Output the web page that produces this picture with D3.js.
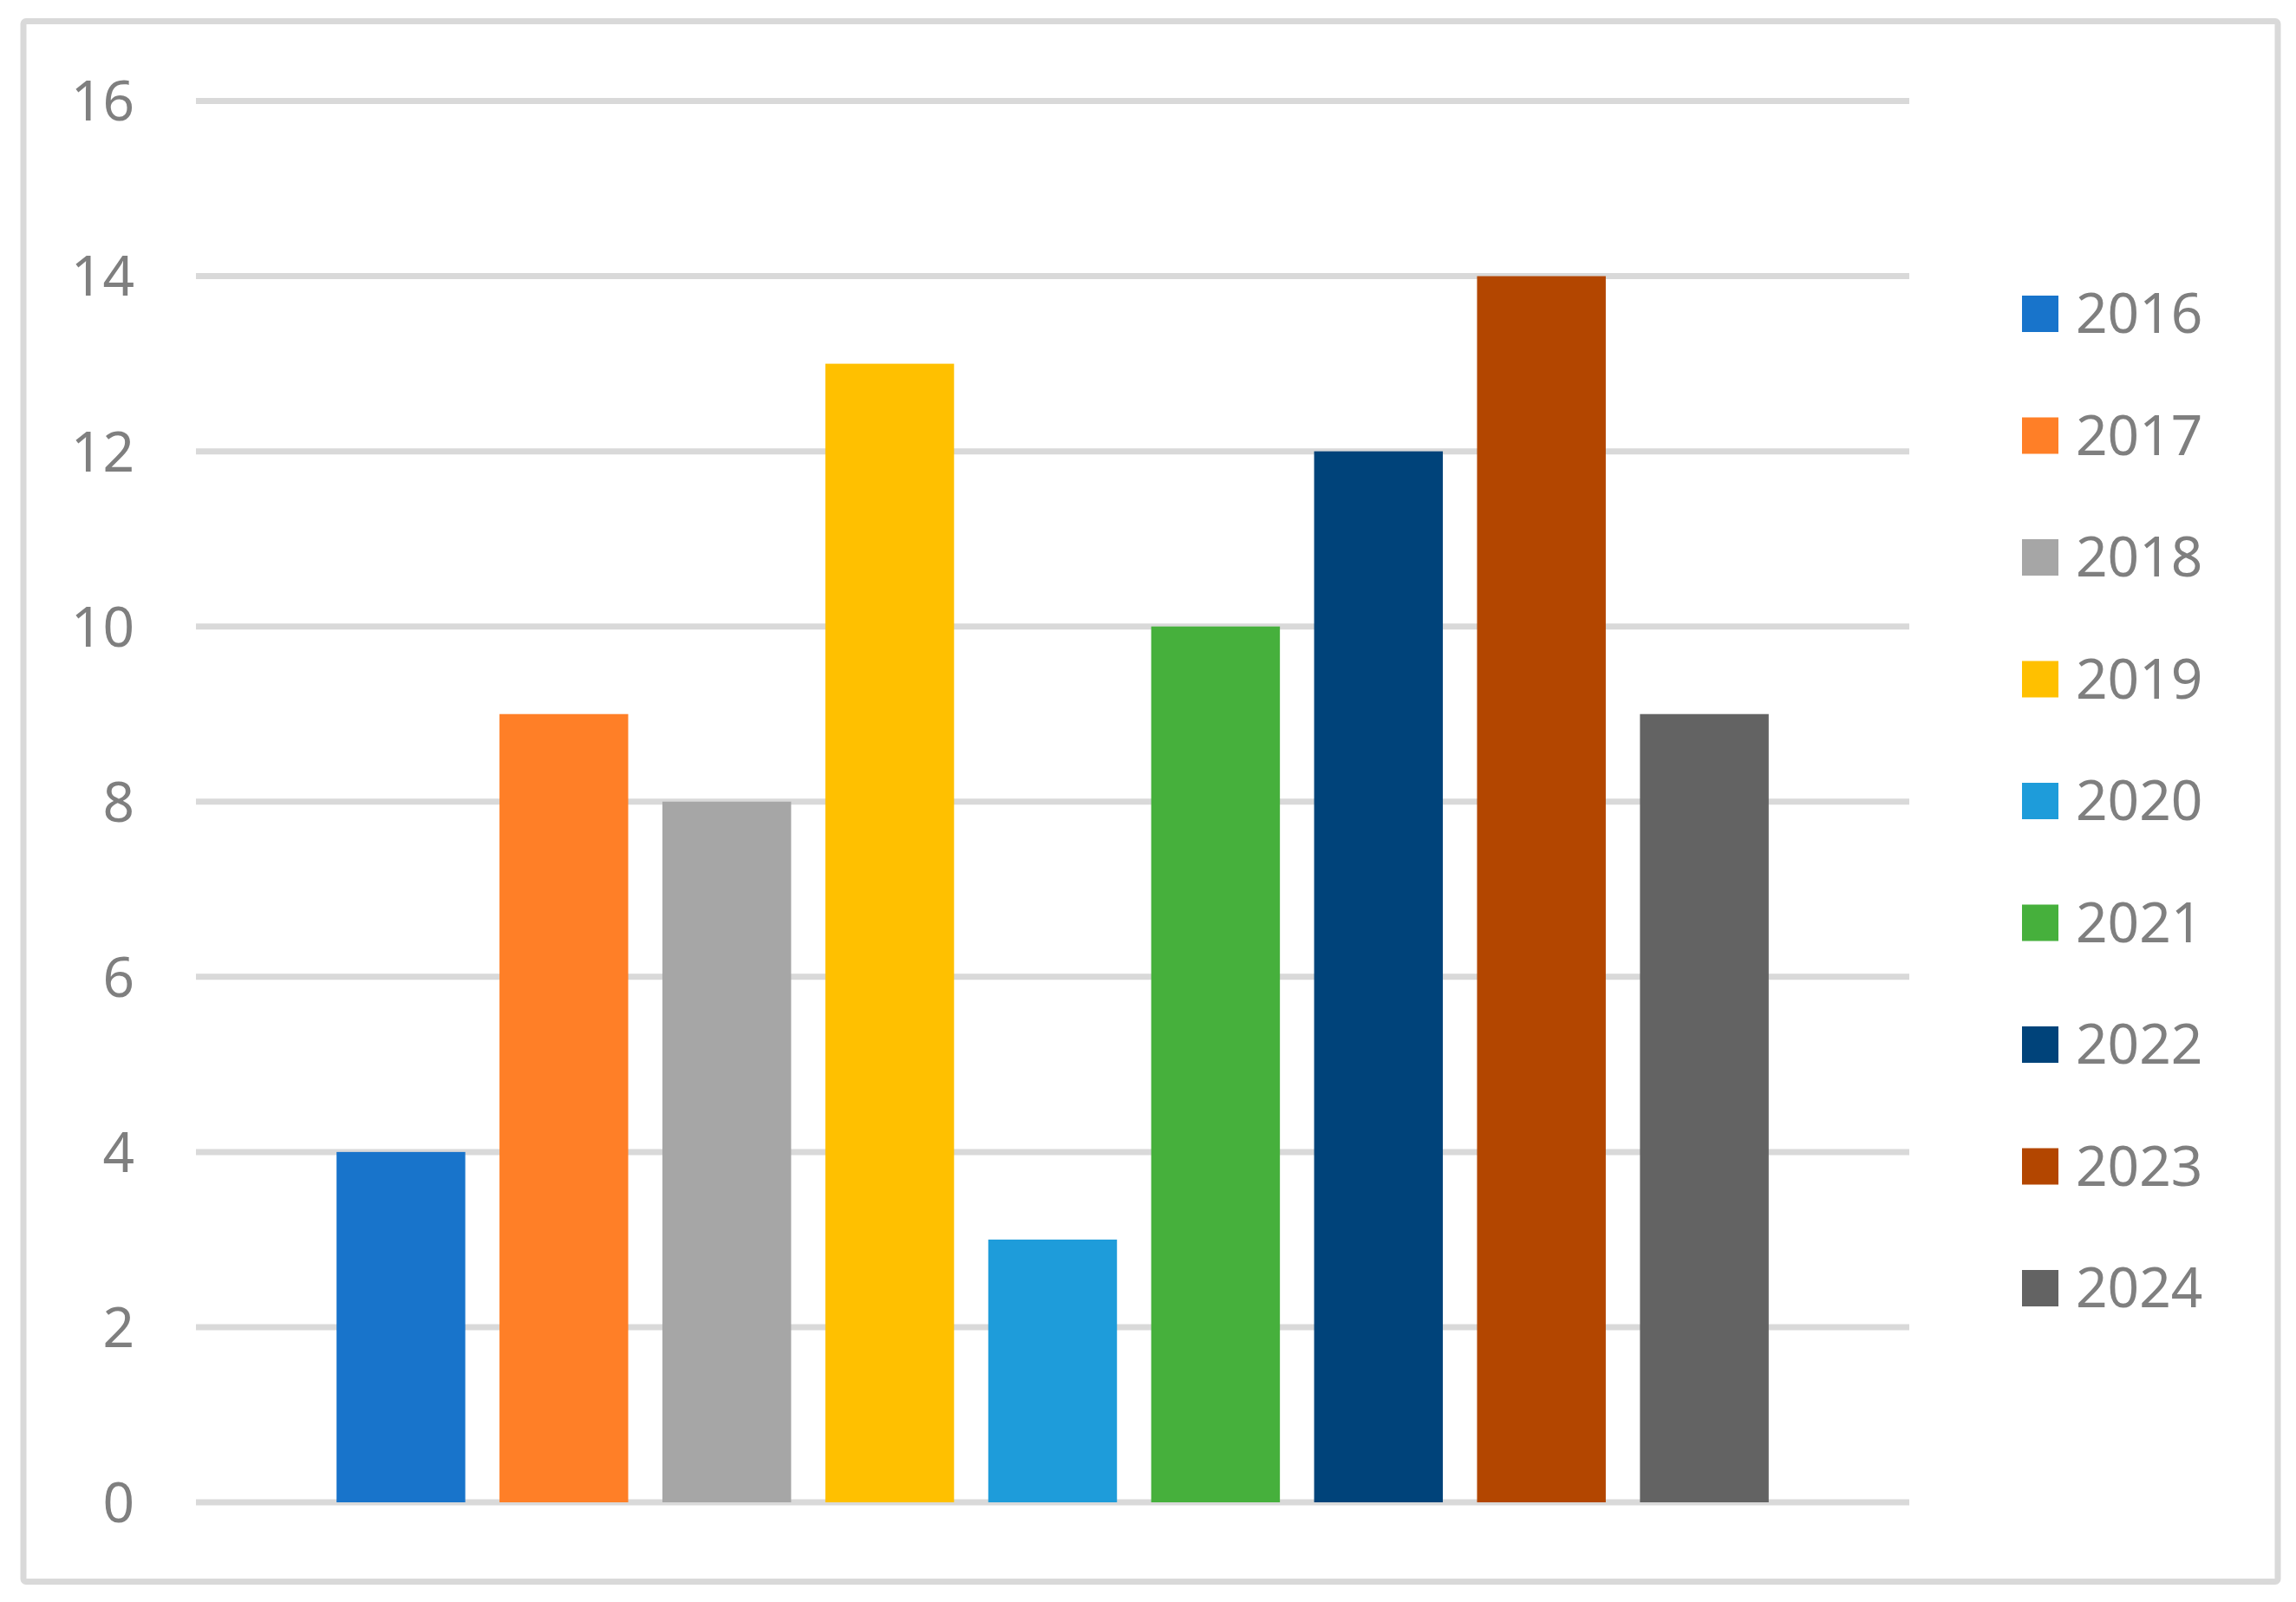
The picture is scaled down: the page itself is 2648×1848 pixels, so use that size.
<!DOCTYPE html>
<html>
<head>
  <script src="https://cdnjs.cloudflare.com/ajax/libs/d3/7.8.5/d3.min.js"></script>
  <style>
    body { margin: 0; background: #fff; }
    text { font-family: "Noto Sans", sans-serif; fill: #7f7f7f; }
  </style>
</head>
<body>
  <script>
    var years = ["2016", "2017", "2018", "2019", "2020", "2021", "2022", "2023", "2024"];
    var values = [4, 9, 8, 13, 3, 10, 12, 14, 9];
    var colors = ["#1874cb", "#ff7f27", "#a6a6a6", "#ffc000", "#1e9cda", "#46b03c", "#00437a", "#b34600", "#636363"];
    var yTicks = [0, 2, 4, 6, 8, 10, 12, 14, 16];

    var width = 2648,
      height = 1848,
      plotLeft = 226,
      plotRight = 2202,
      plotTop = 116.5,
      plotBottom = 1733;

    var svg = d3.select("body")
      .append("svg")
      .attr("width", width)
      .attr("height", height);

    // outer chart border
    svg.append("rect")
      .attr("x", 27)
      .attr("y", 24.5)
      .attr("width", 2600)
      .attr("height", 1800)
      .attr("rx", 3)
      .attr("fill", "#fff")
      .attr("stroke", "#d9d9d9")
      .attr("stroke-width", 7);

    var y = d3.scaleLinear()
      .domain([0, 16])
      .range([plotBottom, plotTop]);

    var x = d3.scaleBand()
      .domain(years)
      .range([plotLeft, plotRight])
      .paddingInner(0.21)
      .paddingOuter(0.863);

    // gridlines
    svg.append("g")
      .selectAll("line")
      .data(yTicks)
      .enter()
      .append("line")
      .attr("x1", plotLeft)
      .attr("x2", plotRight)
      .attr("y1", function(d) { return y(d); })
      .attr("y2", function(d) { return y(d); })
      .attr("stroke", "#d9d9d9")
      .attr("stroke-width", 7);

    // y axis labels
    var yAxis = d3.axisLeft(y)
      .tickValues(yTicks)
      .tickSize(0)
      .tickPadding(0);

    var gy = svg.append("g")
      .attr("transform", "translate(155,0)")
      .call(yAxis);
    gy.select(".domain").remove();
    gy.selectAll("text")
      .attr("font-family", "Noto Sans")
      .attr("font-size", 64)
      .attr("fill", "#7f7f7f")
      .attr("dy", "0.35em");

    // bars
    svg.append("g")
      .selectAll("rect")
      .data(years)
      .enter()
      .append("rect")
      .attr("x", function(d) { return x(d); })
      .attr("y", function(d, i) { return y(values[i]); })
      .attr("width", x.bandwidth())
      .attr("height", function(d, i) { return y(0) - y(values[i]); })
      .attr("fill", function(d, i) { return colors[i]; });

    // legend
    var legendY = d3.scalePoint()
      .domain(years)
      .range([362, 1486]);

    var legend = svg.append("g")
      .selectAll("g")
      .data(years)
      .enter()
      .append("g")
      .attr("transform", function(d) { return "translate(2332," + legendY(d) + ")"; });

    legend.append("rect")
      .attr("x", 0)
      .attr("y", -21)
      .attr("width", 42)
      .attr("height", 42)
      .attr("fill", function(d, i) { return colors[i]; });

    legend.append("text")
      .attr("x", 62)
      .attr("y", 0)
      .attr("dy", "0.35em")
      .attr("font-size", 64)
      .text(function(d) { return d; });
  </script>
</body>
</html>
